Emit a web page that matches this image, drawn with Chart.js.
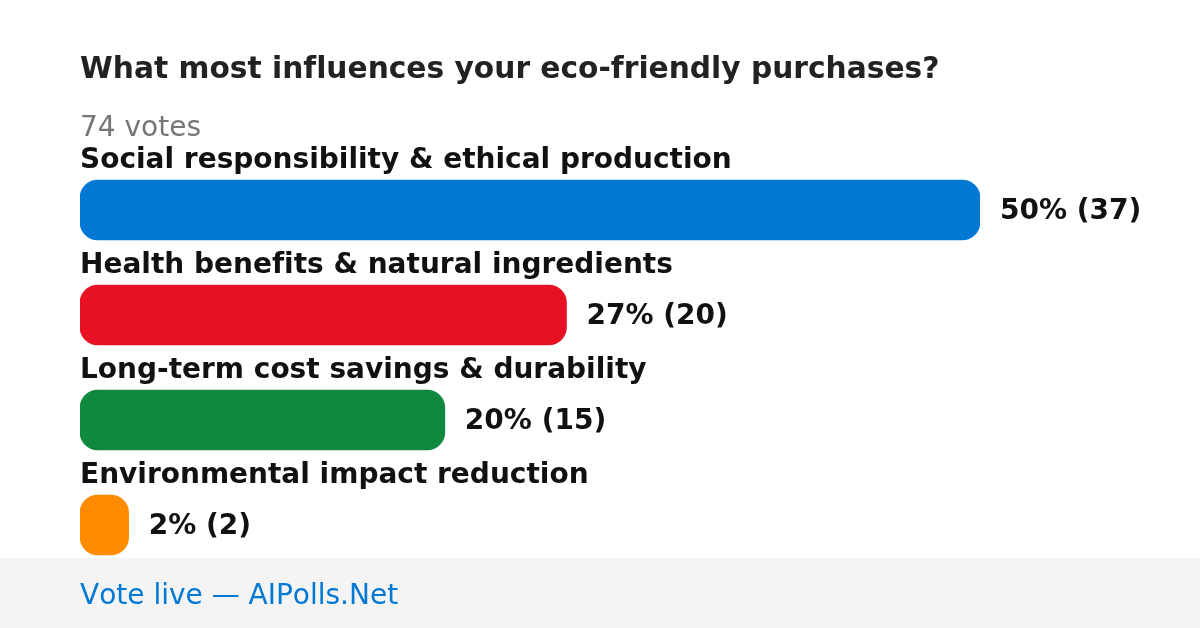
<!DOCTYPE html>
<html>
<head>
<meta charset="utf-8">
<script src="https://cdn.jsdelivr.net/npm/chart.js@4"></script>
<style>
  html, body { margin: 0; padding: 0; background: #fff; }
  #wrap { position: relative; width: 1200px; height: 628px; }
</style>
</head>
<body>
<div id="wrap"><canvas id="pollChart" width="1200" height="628"></canvas></div>
<script>
let title = 'What most influences your eco-friendly purchases?';
let totalLabel = '74 votes';
let footer = 'Vote live \u2014 AIPolls.Net';

let labels = ['Social responsibility & ethical production', 'Health benefits & natural ingredients',
              'Long-term cost savings & durability', 'Environmental impact reduction'];
let votes = [37, 20, 15, 2];
let percents = [50, 27, 20, 2];
let colors = ['#0078d4', '#e81123', '#10893e', '#ff8c00'];

const FONT = '"DejaVu Sans", sans-serif';

// text around the bars: title, vote count, category names, value labels, footer
let pollText = {
  id: 'pollText',
  afterDraw(chart) {
    let ctx = chart.ctx;
    let meta = chart.getDatasetMeta(0);
    ctx.save();
    ctx.textBaseline = 'alphabetic';
    ctx.textAlign = 'left';
    if ('textRendering' in ctx) ctx.textRendering = 'optimizeSpeed';
    if ('fontKerning' in ctx) ctx.fontKerning = 'none';

    ctx.fillStyle = '#222222';
    ctx.font = 'bold 29.7px ' + FONT;
    ctx.fillText(title, 80, 78);

    ctx.fillStyle = '#767676';
    ctx.font = '28px ' + FONT;
    ctx.fillText(totalLabel, 80, 136);

    meta.data.forEach((bar, i) => {
      ctx.fillStyle = '#111111';
      ctx.font = 'bold 28px ' + FONT;
      ctx.fillText(labels[i], 80, bar.y - 42);
      ctx.fillText(percents[i] + '% (' + votes[i] + ')', bar.x + 20, bar.y + 9);
    });

    ctx.fillStyle = '#f4f4f4';
    ctx.fillRect(0, 558, 1200, 70);
    ctx.fillStyle = '#0078d4';
    ctx.font = '28px ' + FONT;
    ctx.fillText(footer, 80, 604);
    ctx.restore();
  }
};

new Chart(document.getElementById('pollChart'), {
  type: 'bar',
  data: {
    labels: labels,
    datasets: [{
      data: votes,
      backgroundColor: colors,
      borderRadius: 18,
      borderSkipped: false,
      barThickness: 60
    }]
  },
  options: {
    indexAxis: 'y',
    responsive: false,
    animation: false,
    layout: { padding: { left: 80, right: 220, top: 157.5, bottom: 50.5 } },
    scales: {
      x: { display: false, min: 0, max: 37 },
      y: { display: false }
    },
    plugins: {
      legend: { display: false },
      tooltip: { enabled: false }
    }
  },
  plugins: [pollText]
});
</script>
</body>
</html>
